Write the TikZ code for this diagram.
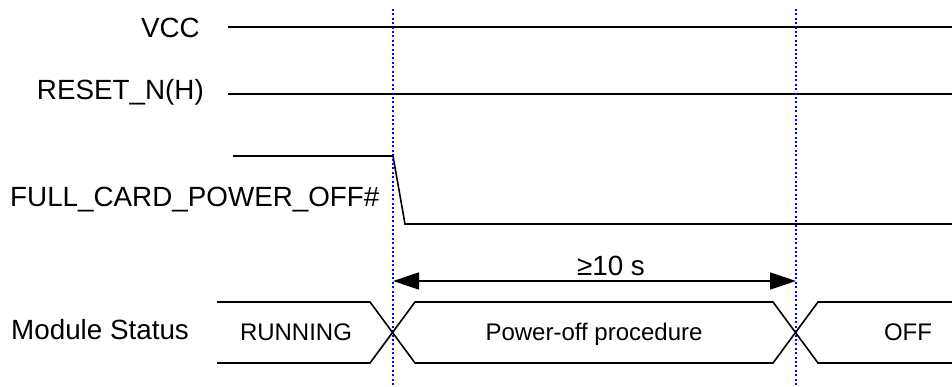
\documentclass[tikz,border=0pt]{standalone}
\usepackage{fontspec}
\setmainfont{Liberation Sans}
\usetikzlibrary{arrows.meta}
\begin{document}
\begin{tikzpicture}[x=1pt,y=-1pt,
  sig/.style={line width=1.6pt,black},
  guide/.style={blue,line width=2.2pt,dash pattern=on 2pt off 2.4pt},
  lbl/.style={inner sep=0pt,font=\fontsize{27.8}{30}\selectfont},
  buslbl/.style={inner sep=0pt,font=\fontsize{24}{28}\selectfont},
  dim/.style={line width=1.6pt,{Triangle[length=26pt,width=17pt]}-{Triangle[length=26pt,width=17pt]}}]
\useasboundingbox (0,0) rectangle (952,387);
% labels
\node[lbl,anchor=base east] (vcc) at (200,38) {VCC};
\node[lbl,anchor=base east] (rst) at (204,100) {RESET\_N(H)};
\node[lbl,anchor=base west] (fcpo) at (10,207) {FULL\_CARD\_POWER\_OFF\#};
\node[lbl,anchor=base west] (ms) at (11,339) {Module Status};
% signals
\draw[sig] (228,27) coordinate (vccA) -- (952,27) coordinate (vccB);
\draw[sig] (228,94) coordinate (rstA) -- (952,94) coordinate (rstB);
\draw[sig] (233,156) coordinate (fA) -- (393,156) coordinate (fB) -- (405,224) coordinate (fC) -- (952,224) coordinate (fD);
% guides
\coordinate (g1t) at (393,9); \coordinate (g1b) at (393,387);
\coordinate (g2t) at (796,9); \coordinate (g2b) at (796,387);
\draw[guide] (g1t) -- (g1b);
\draw[guide] (g2t) -- (g2b);
% dimension
\coordinate (d1) at (393,281); \coordinate (d2) at (796,281);
\draw[dim] (d1) -- (d2);
\node[lbl,anchor=base] (dl) at (611,275) {≥10 s};
% bus
\draw[sig] (217,302) -- (370,302) -- (415,363) -- (773,363) -- (818,302) -- (952,302);
\draw[sig] (217,363) -- (370,363) -- (415,302) -- (773,302) -- (818,363) -- (952,363);
\node[buslbl,anchor=base] (run) at (296,340) {RUNNING};
\node[buslbl,anchor=base] (poff) at (594,340) {Power-off procedure};
\node[buslbl,anchor=base] (off) at (908,340) {OFF};
\end{tikzpicture}
\end{document}
